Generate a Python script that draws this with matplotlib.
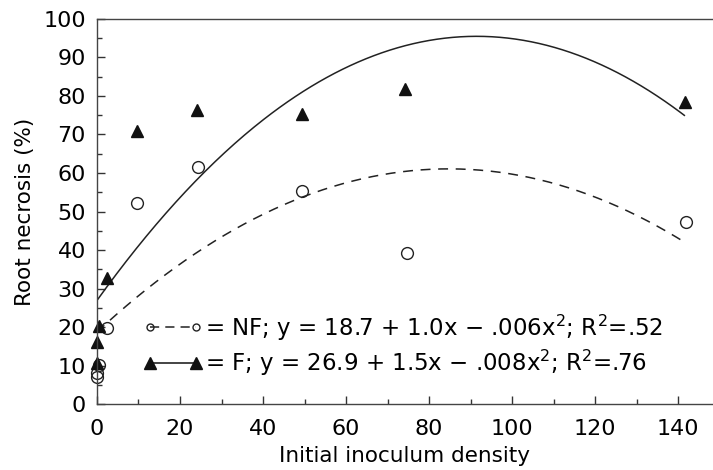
import numpy as np
import matplotlib
matplotlib.use("Agg")
import matplotlib.pyplot as plt
from matplotlib.lines import Line2D
from matplotlib.ticker import MultipleLocator

# inoculum densities and root necrosis (%)
nf_x = [0, 0, 0.6, 2.4, 9.6, 24.3, 49.4, 74.7, 142]
nf_y = [7, 8, 10.2, 19.8, 52.3, 61.5, 55.2, 39.3, 47.4]
f_x = [0, 0, 0.5, 2.4, 9.6, 24.0, 49.4, 74.2, 141.7]
f_y = [10.7, 16, 20.3, 32.8, 71.0, 76.3, 75.3, 81.8, 78.4]

# quadratic fits as drawn (c0, c1, c2)
nf_fit = [18.7, 1.0, -0.0059]
f_fit = [26.9, 1.5, -0.0082]
fit_xmax = 141.5

nf_label = "= NF; y = 18.7 + 1.0x \u2212 .006x$^2$; R$^2$=.52"
f_label = "= F; y = 26.9 + 1.5x \u2212 .008x$^2$; R$^2$=.76"

plt.rcParams['font.family'] = ['DejaVu Sans']
plt.rcParams['mathtext.fontset'] = 'dejavusans'

fig = plt.figure(figsize=(7.13, 4.70), dpi=100)
ax = fig.add_axes([0.136, 0.1404, 0.864, 0.8192])

xx = np.linspace(0, fit_xmax, 300)
ax.plot(xx, np.polyval(nf_fit[::-1], xx), color='#222222', lw=1.1,
        dashes=(6.5, 5))
ax.plot(xx, np.polyval(f_fit[::-1], xx), color='#222222', lw=1.1)

ax.plot(nf_x, nf_y, 'o', ms=8.5, mfc='none', mec='#222222', mew=1.0,
        clip_on=False)
ax.plot(f_x, f_y, '^', ms=8.5, color='#111111', clip_on=False)

ax.set_xlim(0, 148.4)
ax.set_ylim(0, 100)
ax.xaxis.set_major_locator(MultipleLocator(20))
ax.xaxis.set_minor_locator(MultipleLocator(10))
ax.yaxis.set_major_locator(MultipleLocator(10))
ax.yaxis.set_minor_locator(MultipleLocator(5))
ax.tick_params(which='both', direction='in', top=False, right=False,
               labelsize=16, color='#333333', width=1)
ax.tick_params(which='major', length=6, pad=8)
ax.tick_params(axis='x', which='major', pad=11)
ax.tick_params(which='minor', length=3.5)
ax.spines['right'].set_visible(False)
for s in ['left', 'bottom', 'top']:
    ax.spines[s].set_color('#444444')
    ax.spines[s].set_linewidth(1)

ax.set_xlabel("Initial inoculum density", fontsize=15.5, labelpad=5)
ax.set_ylabel("Root necrosis (%)", fontsize=15.5, labelpad=6)

handles = [
    Line2D([], [], color='#222222', lw=1.1, dashes=(6, 4), marker='o',
           ms=5, mfc='none', mec='#222222'),
    Line2D([], [], color='#111111', lw=1.1, marker='^', ms=9),
]
ax.legend(handles, [nf_label, f_label], loc='center left',
          bbox_to_anchor=(0.075, 0.153), frameon=False, numpoints=2,
          fontsize=16.5, handlelength=2.6, handletextpad=0.1,
          labelspacing=0.22, borderpad=0, borderaxespad=0)

fig.savefig("out.png", dpi=100)
